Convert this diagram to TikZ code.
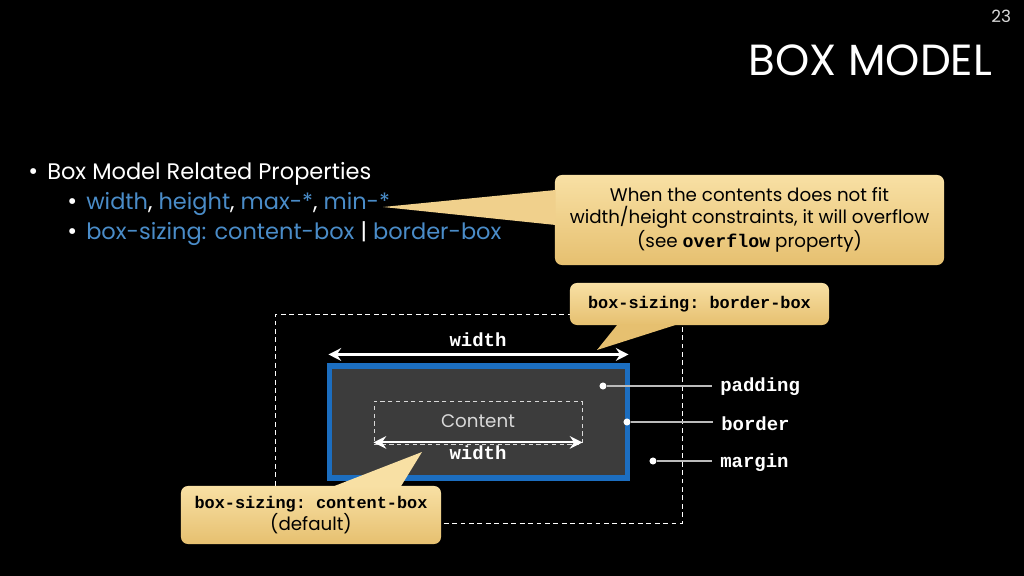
\documentclass[tikz,border=0pt]{standalone}
\usepackage{fontspec}
\setmainfont{Poppins}
\setmonofont{Liberation Mono}
\usetikzlibrary{positioning,calc,arrows.meta}

\definecolor{linkblue}{HTML}{4A8CC8}
\definecolor{boxgray}{HTML}{3C3C3C}
\definecolor{borderblue}{HTML}{1C6EC0}
\definecolor{noteTop}{HTML}{F8E0A4}
\definecolor{noteMid}{HTML}{F0D08C}
\definecolor{noteBot}{HTML}{E6C070}
\definecolor{leader}{HTML}{BBBBBB}

\begin{document}
\begin{tikzpicture}[
        x=0.025cm, y=-0.025cm,
        bodytext/.style={font=\fontsize{16}{20}\selectfont, text=white, anchor=base west, inner sep=0pt},
        subtext/.style={bodytext, text=linkblue},
        bullet/.style={font=\fontsize{17}{20}\selectfont, text=white, anchor=base west, inner sep=0pt},
        note/.style={top color=noteTop, bottom color=noteBot, rounded corners=5pt, align=center,
            text=black, inner sep=0pt, font=\fontsize{13}{15.6}\selectfont},
        codelbl/.style={font=\ttfamily\bfseries\fontsize{13.5}{15}\selectfont, text=white, inner sep=0pt},
        dimarrow/.style={{Stealth[length=9pt,width=9pt,inset=3pt]}-{Stealth[length=9pt,width=9pt,inset=3pt]}, white, line width=1.5pt},
        dot/.style={circle, fill=white, inner sep=0pt, minimum size=5pt},
        leadline/.style={leader, line width=0.8pt}
    ]
        % Slide background
        \fill[black] (0,0) rectangle (1024,576);

        % Title
        \node[anchor=east, text=white!85!black, font=\fontsize{12}{14}\selectfont] (pagenum) at (1016,16) {23};
        \node[anchor=east, text=white, font=\fontsize{31}{34}\selectfont] (title) at (997,60) {BOX MODEL};

        % Bullets
        \node[bullet] (b1) at (28,180) {\textbullet};
        \node[bodytext] (prop) at (47,180) {Box Model Related Properties};
        \node[bullet] (b2) at (67,210) {\textbullet};
        \node[subtext] (props1) at (86,210) {width\textcolor{white}{,} height\textcolor{white}{,} max-*\textcolor{white}{,} min-*};
        \node[bullet] (b3) at (67,240) {\textbullet};
        \node[subtext] (props2) at (86,240) {box-sizing: content-box \textcolor{white}{|} border-box};

        % Callout about overflow
        \node[note, minimum width=9.725cm, minimum height=2.25cm] (overflownote) at (749.5,220)
            {When the contents does not fit\\width/height constraints, it will overflow\\(see \texttt{\textbf{overflow}} property)};
        \coordinate (tipover) at (383,207);
        \fill[noteMid] ($(overflownote.west)+(1,-30)$) -- (tipover) -- ($(overflownote.west)+(1,5)$) -- cycle;

        % Margin, border box and content
        \node[draw=white, dashed, dash pattern=on 3.5pt off 2.5pt, line width=0.6pt,
            minimum width=10.175cm, minimum height=5.225cm] (marginbox) at (478.5,419) {};
        \node[draw=borderblue, fill=boxgray, line width=3.6pt,
            minimum width=7.425cm, minimum height=2.8cm] (borderbox) at (478.5,422) {};
        \node[draw=white!85!black, dashed, dash pattern=on 3pt off 2.5pt, line width=0.6pt,
            minimum width=5.2cm, minimum height=1.075cm] (contentbox) at (478,422.5) {};
        \node[text=white!85!black, font=\fontsize{13}{15}\selectfont] (contentlbl) at (478,421) {Content};

        % Width arrows
        \draw[dimarrow] ($(borderbox.north west)+(1,-9)$) -- ($(borderbox.north east)+(-1,-9)$);
        \node[codelbl] (outerwidth) at (478,340) {width};
        \draw[dimarrow] ($(contentbox.south west)+(0,-2)$) -- ($(contentbox.south east)+(0,-2)$);
        \node[codelbl] (innerwidth) at (478,453) {width};

        % Part labels
        \node[codelbl, anchor=west] (padlbl) at (720,387) {padding};
        \node[codelbl, anchor=west] (borderlbl) at (721,424) {border};
        \node[codelbl, anchor=west] (marginlbl) at (720,463) {margin};
        \node[dot] (paddot) at (603,386) {};
        \node[dot] (borderdot) at (627,422) {};
        \node[dot] (margindot) at (653,461) {};
        \draw[leadline] (paddot) -- ($(paddot -| padlbl.west)+(-8,0)$);
        \draw[leadline] (borderdot) -- ($(borderdot -| borderlbl.west)+(-8,0)$);
        \draw[leadline] (margindot) -- ($(margindot -| marginlbl.west)+(-8,0)$);

        % Callout for border-box
        \node[note, font=\ttfamily\bfseries\fontsize{12}{14}\selectfont,
            minimum width=6.475cm, minimum height=1.05cm] (bordernote) at (699.5,304) {box-sizing: border-box};
        \coordinate (tipborder) at (597,350);
        \fill[noteBot] ($(bordernote.south west)+(48,-1)$) -- (tipborder) -- ($(bordernote.south west)+(108,-1)$) -- cycle;

        % Callout for content-box
        \node[note, minimum width=6.5cm, minimum height=1.45cm] (contentnote) at (311,515)
            {{\ttfamily\bfseries\fontsize{12}{15.6}\selectfont box-sizing: content-box}\\(default)};
        \coordinate (tipcontent) at (422,452);
        \fill[noteTop] ($(contentnote.north west)+(152,1)$) -- (tipcontent) -- ($(contentnote.north west)+(220,1)$) -- cycle;
    \end{tikzpicture}
\end{document}
